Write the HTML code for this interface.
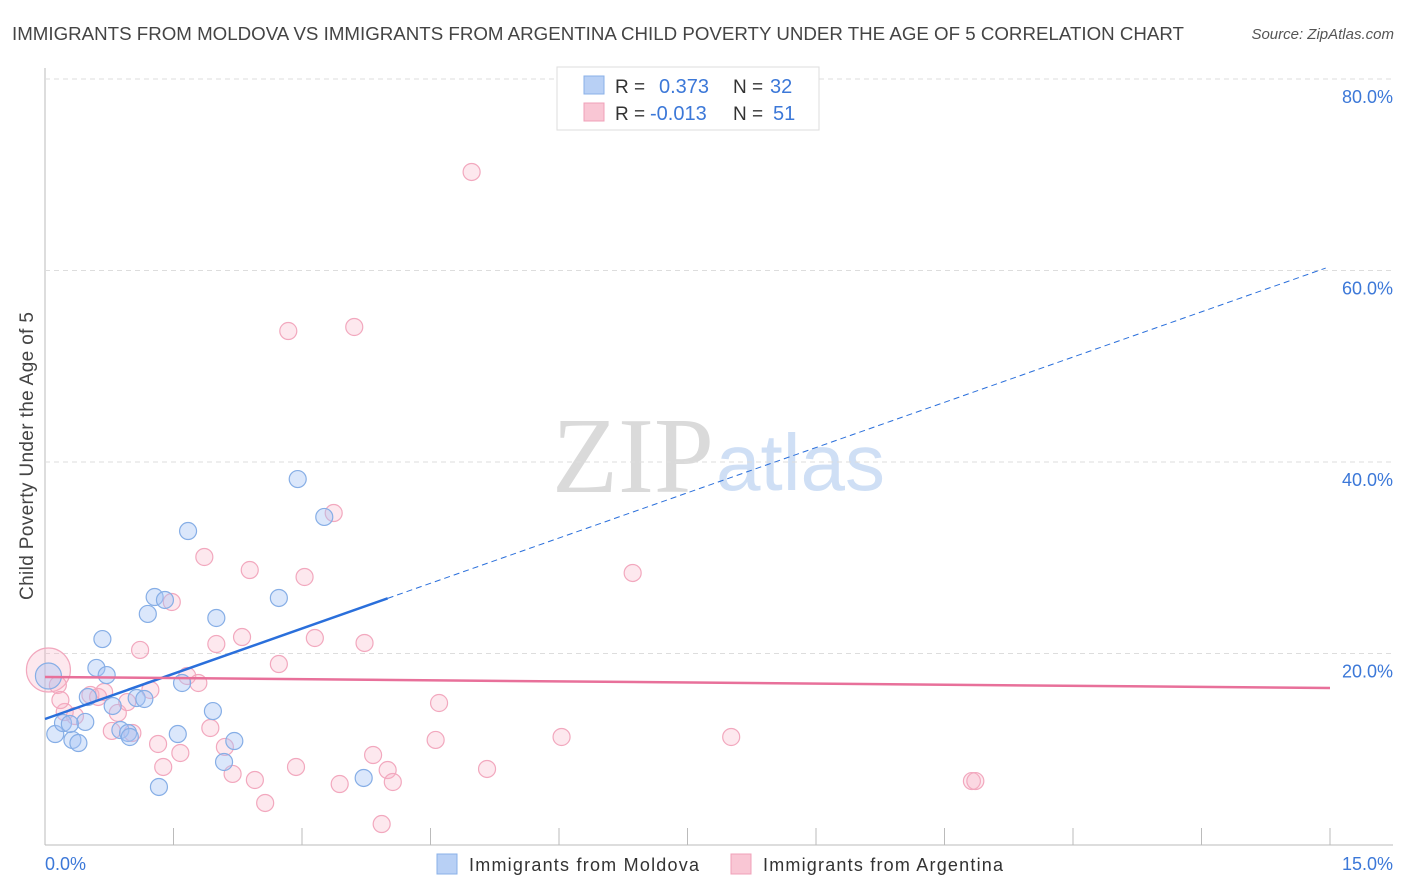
<!DOCTYPE html>
<html><head><meta charset="utf-8"><style>
body{margin:0;background:#fff;font-family:"Liberation Sans",sans-serif;}
svg{display:block}
</style></head><body>
<svg id="chart" width="1406" height="892">
<text x="12" y="40" font-size="18" fill="#444" textLength="1172" lengthAdjust="spacingAndGlyphs">IMMIGRANTS FROM MOLDOVA VS IMMIGRANTS FROM ARGENTINA CHILD POVERTY UNDER THE AGE OF 5 CORRELATION CHART</text>
<text x="1394" y="39" font-size="15" fill="#555" font-style="italic" text-anchor="end">Source: ZipAtlas.com</text>
<text x="714" y="492" font-size="108" fill="#dadada" text-anchor="end" font-family="Liberation Serif">ZIP</text>
<text x="716" y="490" font-size="80" fill="#cfdff5">atlas</text>
<text transform="translate(33,456) rotate(-90)" font-size="19" fill="#444" text-anchor="middle" textLength="288">Child Poverty Under the Age of 5</text>
<g id="grid"></g><g id="marks"></g>
<g>
<rect x="557" y="67" width="262" height="63" fill="#fff" stroke="#ddd"/>
<rect x="584" y="76" width="20" height="18" fill="#b8d0f5" stroke="#8ab0e8"/>
<rect x="584" y="103" width="20" height="18" fill="#f9c6d4" stroke="#f0a0b8"/>
<text x="615" y="93" font-size="19" fill="#333">R = </text><text x="659" y="93" font-size="20" fill="#3c78d8">0.373</text>
<text x="733" y="93" font-size="19" fill="#333">N = </text><text x="770" y="93" font-size="20" fill="#3c78d8">32</text>
<text x="615" y="120" font-size="19" fill="#333">R = </text><text x="650" y="120" font-size="20" fill="#3c78d8">-0.013</text>
<text x="733" y="120" font-size="19" fill="#333">N = </text><text x="773" y="120" font-size="20" fill="#3c78d8">51</text>
</g>
<g>
<rect x="437" y="854" width="20" height="20" fill="#b8d0f5" stroke="#8ab0e8"/>
<text x="469" y="871" font-size="18" fill="#333" textLength="230">Immigrants from Moldova</text>
<rect x="731" y="854" width="20" height="20" fill="#f9c6d4" stroke="#f0a0b8"/>
<text x="763" y="871" font-size="18" fill="#333" textLength="240">Immigrants from Argentina</text>
</g>
</svg>
<script>
const xTicks=[0,1.5,3,4.5,6,7.5,9,10.5,12,13.5,15];
const yTicks=[20,40,60,80];
const yTickLabels=["20.0%","40.0%","60.0%","80.0%"];
const moldovaX=[0.04,0.12,0.21,0.32,0.39,0.47,0.60,0.67,0.72,0.50,0.79,0.88,0.97,0.99,1.07,1.16,1.20,1.28,1.40,1.60,1.55,1.67,1.96,2.00,2.09,2.21,2.73,2.95,3.26,3.72,1.33,0.29];
const moldovaY=[17.65,11.59,12.74,10.97,10.65,12.85,18.49,21.51,17.75,15.46,14.52,12.01,11.70,11.28,15.35,15.25,24.13,25.90,25.59,16.92,11.59,32.79,13.99,23.71,8.67,10.86,25.80,38.22,34.26,7.00,6.06,12.64];
const argX=[0.04,0.15,0.23,0.35,0.53,0.62,0.69,0.78,0.85,0.96,1.02,1.11,1.23,1.32,1.38,1.48,1.58,1.66,1.79,1.86,1.93,2.00,2.10,2.19,2.30,2.39,2.45,2.57,2.73,2.84,2.93,3.03,3.15,3.37,3.44,3.61,3.73,3.83,3.93,4.00,4.06,4.56,4.60,4.98,5.16,6.03,6.86,8.01,10.82,10.86,0.18];
const argY=[18.28,16.71,13.89,13.47,15.67,15.46,15.98,11.91,13.79,14.93,11.70,20.37,16.19,10.55,8.15,25.38,9.61,17.65,16.92,30.08,12.22,20.99,10.24,7.42,21.72,28.72,6.79,4.39,18.90,53.68,8.15,27.99,21.62,34.67,6.37,54.10,21.10,9.40,2.19,7.83,6.58,10.97,14.83,70.29,7.94,11.28,28.41,11.28,6.68,6.68,15.14];
const moldovaTrend=[13.16,3.15]; // intercept, slope
const argTrend=[17.55,-0.077];
const X=v=>45+v/15*1285, Y=v=>845-v/20*191.5;
const NS="http://www.w3.org/2000/svg";
function mk(p,t,a){const e=document.createElementNS(NS,t);for(const k in a)e.setAttribute(k,a[k]);p.appendChild(e);return e;}
const g=document.getElementById('grid'), m=document.getElementById('marks');
let ax=mk(g,'line',{x1:45,y1:68,x2:45,y2:845,stroke:'#bbb'});


let bx=mk(g,'line',{x1:45,y1:845,x2:1393,y2:845,stroke:'#bbb'});


xTicks.forEach(t=>{const l=mk(g,'line',{x1:X(t),y1:828,x2:X(t),y2:845,stroke:'#bbb'});

});
yTicks.forEach((t,i)=>{const l=mk(g,'line',{x1:45,y1:Y(t),x2:1393,y2:Y(t),stroke:'#ddd','stroke-dasharray':'5,4'});


const tx=mk(g,'text',{x:1393,y:Y(t)+24,'font-size':18,fill:'#3c78d8','text-anchor':'end'});tx.textContent=yTickLabels[i];

});
const x0=mk(g,'text',{x:45,y:870,'font-size':18,fill:'#3c78d8'});x0.textContent=xTicks[0].toFixed(1)+'%';


const x1=mk(g,'text',{x:1393,y:870,'font-size':18,fill:'#3c78d8','text-anchor':'end'});x1.textContent=xTicks[xTicks.length-1].toFixed(1)+'%';


argX.forEach((v,i)=>{const c=mk(m,'circle',{cx:X(v),cy:Y(argY[i]),r:i==0?22:8.5,fill:'rgba(248,180,200,0.3)',stroke:'#f2a8be','stroke-width':1.2});

});
moldovaX.forEach((v,i)=>{const c=mk(m,'circle',{cx:X(v),cy:Y(moldovaY[i]),r:i==0?13:8.5,fill:'rgba(164,194,244,0.4)',stroke:'#86aee6','stroke-width':1.2});

});
const f=(t,x)=>t[0]+t[1]*x;
let l1=mk(m,'line',{x1:X(0),y1:Y(f(moldovaTrend,0)),x2:X(4),y2:Y(f(moldovaTrend,4)),stroke:'#2a6fdb','stroke-width':2.5});


let l2=mk(m,'line',{x1:X(4),y1:Y(f(moldovaTrend,4)),x2:X(14.95),y2:Y(f(moldovaTrend,14.95)),stroke:'#2a6fdb','stroke-width':1,'stroke-dasharray':'6,4'});


let l3=mk(m,'line',{x1:X(0),y1:Y(f(argTrend,0)),x2:X(15),y2:Y(f(argTrend,15)),stroke:'#e8709a','stroke-width':2.5});


</script>
</body></html>
